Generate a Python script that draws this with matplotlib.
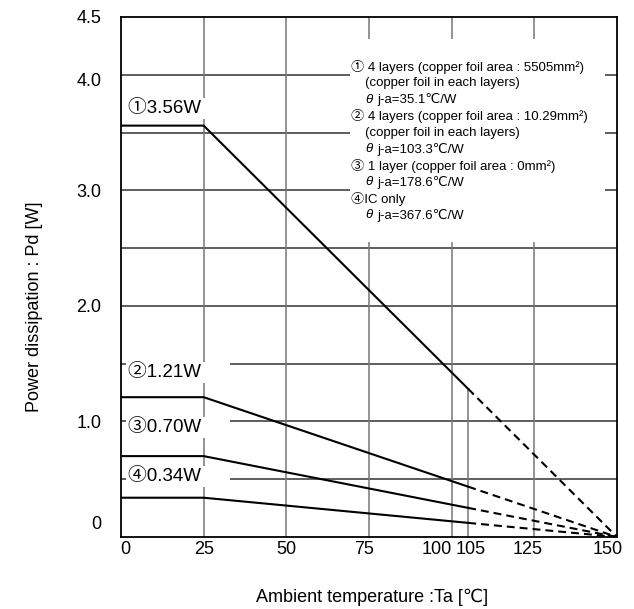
import matplotlib
matplotlib.use('Agg')
import matplotlib.pyplot as plt
from matplotlib.patches import Rectangle
from matplotlib.transforms import ScaledTranslation

plt.rcParams['font.family'] = ['Liberation Sans', 'DejaVu Sans']
circ_font = ['Liberation Sans', 'Noto Sans CJK JP', 'DejaVu Sans']

# power derating curves: flat up to 25C, falling to 0 W at 150C (dashed above 105C)
pd_max = [3.56, 1.21, 0.70, 0.34]
case_labels = ['①3.56W', '②1.21W', '③0.70W', '④0.34W']
label_y = [3.71, 1.42, 0.95, 0.52]
t_flat = 25
t_rated = 105
t_max = 150

x_ticks = [0, 25, 50, 75, 100, 105, 125, 150]
x_grid = [25, 50, 75, 100, 125]
y_ticks = [0, 1, 2, 3, 4, 4.5]
y_ticklabels = ['0', '1.0', '2.0', '3.0', '4.0', '4.5']
y_grid = [0.5, 1.0, 1.5, 2.0, 2.5, 3.0, 3.5, 4.0]

notes = [
    ('① 4 layers (copper foil area : 5505mm²)', False),
    ('(copper foil in each layers)', True),
    ('θ|j-a=35.1℃/W', True),
    ('② 4 layers (copper foil area : 10.29mm²)', False),
    ('(copper foil in each layers)', True),
    ('θ|j-a=103.3℃/W', True),
    ('③ 1 layer (copper foil area : 0mm²)', False),
    ('θ|j-a=178.6℃/W', True),
    ('④IC only', False),
    ('θ|j-a=367.6℃/W', True),
]

fig = plt.figure(figsize=(6.34, 6.09), dpi=100)
ax = fig.add_axes([0.1909, 0.1182, 0.7823, 0.8539])
ax.set_xlim(0, t_max)
ax.set_ylim(0, 4.5)

# grid
for y in y_grid:
    ax.axhline(y, color='#333333', lw=1.1, zorder=1)
for x in x_grid:
    ax.axvline(x, color='#777777', lw=1.1, zorder=1)
ax.plot([t_rated, t_rated], [0, pd_max[0] * (t_max - t_rated) / (t_max - t_flat)],
        color='#777777', lw=1.1, zorder=1)

# curves
for p in pd_max:
    p_rated = p * (t_max - t_rated) / (t_max - t_flat)
    ax.plot([0, t_flat, t_rated], [p, p, p_rated], color='black', lw=1.5, zorder=3)
    ax.plot([t_rated, t_max], [p_rated, 0], color='black', lw=1.5,
            linestyle=(0, (3.8, 2.4)), zorder=3)

for lab, y in zip(case_labels, label_y):
    ax.text(2.2, y, lab + '     ', fontsize=13.5, ha='left', va='center', zorder=4,
            family=circ_font, bbox=dict(facecolor='white', edgecolor='none', pad=1.5))

# notes box
ax.add_patch(Rectangle((69.2, 2.55), 77.2, 1.76, facecolor='white', edgecolor='none', zorder=2))
top = 4.07
step = 0.143
for i, (line, indent) in enumerate(notes):
    x = 73.8 if indent else 69.5
    y = top - i * step
    if line.startswith('θ|'):
        ax.text(x, y, 'θ', fontsize=9.5, fontstyle='italic', ha='left', va='center', zorder=4)
        ax.annotate(line[2:], xy=(x, y), xytext=(8.5, 0), textcoords='offset points',
                    fontsize=9.5, ha='left', va='center', zorder=4)
    else:
        ax.text(x, y, line, fontsize=9.5, ha='left', va='center', zorder=4, family=circ_font)

for s in ax.spines.values():
    s.set_linewidth(1.3)
    s.set_zorder(5)

ax.set_xticks(x_ticks)
ax.set_xticklabels([str(v) for v in x_ticks])
ax.set_yticks(y_ticks)
ax.set_yticklabels(y_ticklabels)
ax.tick_params(axis='both', length=0, labelsize=13)
ax.tick_params(axis='x', pad=3)
ax.tick_params(axis='y', pad=14)

x_shift = {0: 4, 75: -5, 100: -15, 105: 2, 125: -7, 150: -9}
for tick, v in zip(ax.xaxis.get_major_ticks(), x_ticks):
    if v in x_shift:
        lab = tick.label1
        lab.set_transform(lab.get_transform() + ScaledTranslation(x_shift[v] / 100, 0, fig.dpi_scale_trans))
y_shift = {0: 15, 4: -5}
for tick, v in zip(ax.yaxis.get_major_ticks(), y_ticks):
    if v in y_shift:
        lab = tick.label1
        lab.set_transform(lab.get_transform() + ScaledTranslation(0, y_shift[v] / 100, fig.dpi_scale_trans))

fig.text(35 / 634, 1 - 307 / 609, 'Power dissipation : Pd [W]', rotation=90,
         fontsize=13, ha='center', va='center')
fig.text(372 / 634, 1 - 597 / 609, 'Ambient temperature :Ta [℃]',
         fontsize=13, ha='center', va='center')

fig.savefig('out.png', dpi=100)
